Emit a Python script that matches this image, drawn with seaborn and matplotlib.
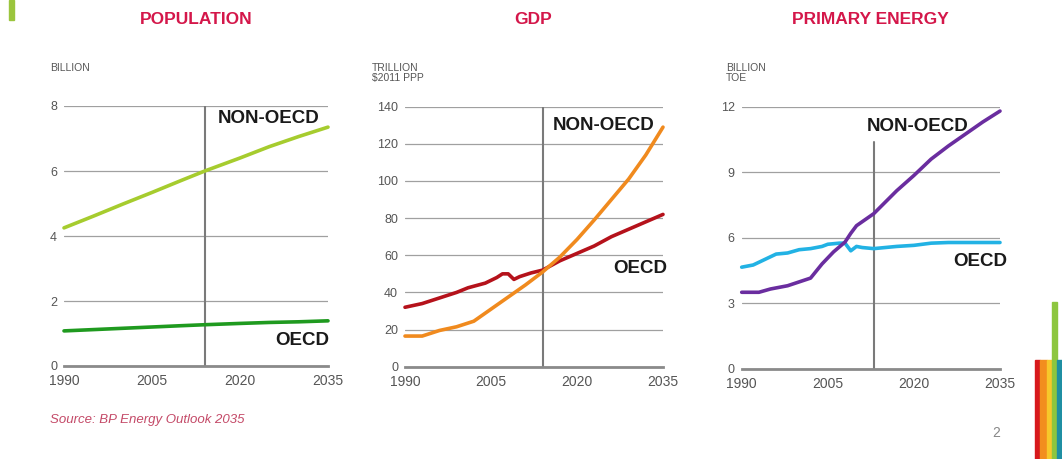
import numpy as np
import pandas as pd
import matplotlib
matplotlib.use("Agg")
import matplotlib.pyplot as plt
import seaborn as sns
from matplotlib.patches import Rectangle

sns.set_style("white")
plt.rcParams['font.family'] = ['Liberation Sans', 'DejaVu Sans']

# Population (billion)
pop_years = [1990, 1995, 2000, 2005, 2010, 2014, 2020, 2025, 2030, 2035]
pop_non_oecd = [4.25, 4.61, 4.98, 5.34, 5.71, 6.0, 6.4, 6.75, 7.06, 7.35]
pop_oecd = [1.08, 1.12, 1.16, 1.20, 1.24, 1.27, 1.31, 1.34, 1.36, 1.39]

# GDP (trillion $2011 PPP)
gdp_oecd_years = [1990, 1993, 1996, 1999, 2001, 2004, 2006, 2007, 2008, 2009,
                  2010, 2012, 2014, 2017, 2020, 2023, 2026, 2029, 2032, 2035]
gdp_oecd = [32, 34, 37, 40, 42.5, 45, 48, 50, 50, 47,
            48.5, 50.5, 52, 57, 61, 65, 70, 74, 78, 82]
gdp_non_years = [1990, 1993, 1996, 1999, 2002, 2005, 2008, 2011, 2014, 2017,
                 2020, 2023, 2026, 2029, 2032, 2035]
gdp_non_oecd = [16.5, 16.5, 19.5, 21.5, 24.5, 31, 37.5, 44, 51, 59,
                68.5, 79, 90, 101, 114, 129]

# Primary energy (billion toe)
en_non_years = [1990, 1993, 1995, 1998, 2002, 2004, 2006, 2008, 2009, 2010,
                2013, 2017, 2020, 2023, 2026, 2029, 2032, 2035]
en_non_oecd = [3.5, 3.5, 3.65, 3.8, 4.15, 4.8, 5.35, 5.8, 6.2, 6.55,
               7.1, 8.15, 8.85, 9.6, 10.2, 10.75, 11.3, 11.8]
en_oecd_years = [1990, 1992, 1994, 1996, 1998, 2000, 2002, 2004, 2005, 2007,
                 2008, 2009, 2010, 2011, 2013, 2017, 2020, 2023, 2026, 2035]
en_oecd = [4.65, 4.75, 5.0, 5.25, 5.3, 5.45, 5.5, 5.6, 5.7, 5.75,
           5.75, 5.4, 5.6, 5.55, 5.5, 5.6, 5.65, 5.75, 5.78, 5.78]

W, H = 1062, 459
def fx(x):
    return x / W
def fy(y):
    return 1 - y / H

fig = plt.figure(figsize=(10.62, 4.59), dpi=100)
fig.patch.set_facecolor("white")

panels = [
    dict(box=(64, 106, 328, 366), ymax=8, yticks=[0, 2, 4, 6, 8], vyear=2014, vtop=8,
         series=[(pop_years, pop_non_oecd, "#a6cc2e"), (pop_years, pop_oecd, "#1f9a1f")],
         labels=[(2024.8, 7.63, "NON-OECD"), (2030.6, 0.77, "OECD")],
         title="POPULATION", tx=196, unit="BILLION", ux=50),
    dict(box=(405, 106.7, 663, 366.7), ymax=140, yticks=[0, 20, 40, 60, 80, 100, 120, 140],
         vyear=2014, vtop=140,
         series=[(gdp_oecd_years, gdp_oecd, "#b5121b"), (gdp_non_years, gdp_non_oecd, "#f08a1e")],
         labels=[(2024.7, 130, "NON-OECD"), (2031, 53, "OECD")],
         title="GDP", tx=533, unit="TRILLION\n$2011 PPP", ux=372),
    dict(box=(741.7, 106.7, 1000, 368.7), ymax=12, yticks=[0, 3, 6, 9, 12], vyear=2013, vtop=10.4,
         series=[(en_oecd_years, en_oecd, "#22b2e4"), (en_non_years, en_non_oecd, "#6a2d9f")],
         labels=[(2020.7, 11.1, "NON-OECD"), (2031.5, 4.9, "OECD")],
         title="PRIMARY ENERGY", tx=870, unit="BILLION\nTOE", ux=726),
]

for p in panels:
    x0, y0, x1, y1 = p["box"]
    ax = fig.add_axes([fx(x0), fy(y1), (x1 - x0) / W, (y1 - y0) / H])
    ax.set_facecolor("white")
    for yrs, vals, col in p["series"]:
        df = pd.DataFrame({"year": yrs, "value": vals})
        sns.lineplot(data=df, x="year", y="value", ax=ax, color=col, lw=2.6, clip_on=False)
    ax.set_xlim(1990, 2035)
    ax.set_ylim(0, p["ymax"])
    ax.set_yticks(p["yticks"])
    ax.set_xticks([1990, 2005, 2020, 2035])
    ax.set_xticks(np.arange(1990, 2036, 5), minor=True)
    ax.yaxis.grid(True, color="#a0a0a0", lw=0.9)
    ax.set_axisbelow(True)
    for s in ["top", "right", "left"]:
        ax.spines[s].set_visible(False)
    ax.spines["bottom"].set_color("#8a8a8a")
    ax.spines["bottom"].set_linewidth(2)
    ax.tick_params(axis="y", length=0, pad=5, labelsize=9, labelcolor="#555555")
    ax.tick_params(axis="x", which="both", direction="in", length=4, width=1.2,
                   color="#8a8a8a", pad=6, labelsize=10, labelcolor="#555555")
    ax.plot([p["vyear"], p["vyear"]], [0, p["vtop"]], color="#7a7a7a", lw=1.5, zorder=1)
    ax.set_xlabel("")
    ax.set_ylabel("")
    for lx, ly, txt in p["labels"]:
        ax.text(lx, ly, txt, ha="center", va="center", fontsize=13.5, fontweight="bold",
                color="#1a1a1a")
    fig.text(fx(p["tx"]), fy(19), p["title"], ha="center", va="center", fontsize=12.5,
             fontweight="bold", color="#d4174a")
    fig.text(fx(p["ux"]), fy(63), p["unit"], ha="left", va="top", fontsize=7.5,
             color="#555555", linespacing=1.05)

fig.text(fx(50), fy(420), "Source: BP Energy Outlook 2035", ha="left", va="center",
         fontsize=9.5, style="italic", color="#c44a68")
fig.text(fx(996), fy(433), "2", ha="center", va="center", fontsize=10, color="#888888")

# decorative colour bars
fig.patches.append(Rectangle((fx(9), fy(20)), 5 / W, 20 / H, transform=fig.transFigure,
                             color="#9bc53d", zorder=5))
bars = [(1035, 5, 360, "#d7191c"), (1040, 7, 360, "#f28e1e"), (1047, 5, 360, "#f7c82a"),
        (1052, 5, 302, "#8dc63f"), (1057, 5, 360, "#1f8fa3")]
for bx, bw, top, col in bars:
    fig.patches.append(Rectangle((fx(bx), 0), bw / W, (H - top) / H,
                                 transform=fig.transFigure, color=col, zorder=5))

fig.savefig("out.png", dpi=100)
